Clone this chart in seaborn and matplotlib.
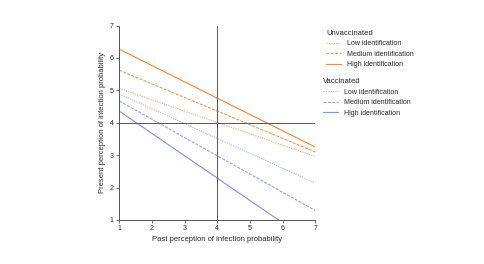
import pandas as pd
import seaborn as sns
import matplotlib.pyplot as plt
from matplotlib.lines import Line2D

# past perception (x) and predicted present perception at the two ends
past = [1, 7]
unvax_low = [5.06, 2.96]
unvax_medium = [5.62, 3.10]
unvax_high = [6.27, 3.25]
vax_low = [4.89, 2.14]
vax_medium = [4.67, 1.29]
vax_high = [4.36, 0.22]

levels = ['Low identification', 'Medium identification', 'High identification']
orange = '#f58a3a'
blue = '#8296ee'
styles = {'Low identification': (0, (1, 1)),
          'Medium identification': (0, (2.5, 1.2)),
          'High identification': '-'}
alphas = {'Low identification': 0.65, 'Medium identification': 0.85, 'High identification': 1.0}

rows = []
for grp, series in [('Unvaccinated', [unvax_low, unvax_medium, unvax_high]),
                    ('Vaccinated', [vax_low, vax_medium, vax_high])]:
    for lev, vals in zip(levels, series):
        for x, y in zip(past, vals):
            rows.append({'group': grp, 'level': lev, 'past': x, 'present': y})
df = pd.DataFrame(rows)

sns.set_style('white')
plt.rcParams['font.family'] = ['Liberation Sans', 'DejaVu Sans']

fig = plt.figure(figsize=(4.85, 2.64), dpi=100)
ax = fig.add_axes([0.246, 0.167, 0.404, 0.736])

for (grp, lev), d in df.groupby(['group', 'level']):
    col = orange if grp == 'Unvaccinated' else blue
    sns.lineplot(data=d, x='past', y='present', ax=ax, color=col,
                 linestyle=styles[lev], alpha=alphas[lev], linewidth=0.85, legend=False)

ax.axvline(4, color='#555555', linewidth=0.7)
ax.axhline(4, color='#555555', linewidth=0.7)

ax.set_xlim(1, 7)
ax.set_ylim(1, 7)
ax.set_xticks(range(1, 8))
ax.set_yticks(range(1, 8))
ax.tick_params(labelsize=5, length=2, width=0.6, color='#555555', pad=2, bottom=True, left=True)
for s in ['top', 'right']:
    ax.spines[s].set_visible(False)
for s in ['left', 'bottom']:
    ax.spines[s].set_color('#555555')
    ax.spines[s].set_linewidth(0.7)
ax.set_xlabel('Past perception of infection probability', fontsize=5.5, labelpad=2.5)
ax.set_ylabel('Present perception of infection probability', fontsize=5.5, labelpad=3)

for grp, col, xpos, ypos in [('Unvaccinated', orange, 0.665, 0.9),
                             ('Vaccinated', blue, 0.659, 0.716)]:
    handles = [Line2D([], [], color=col, linestyle=styles[l], alpha=alphas[l], linewidth=0.85)
               for l in levels]
    fig.legend(handles, levels, title=grp, fontsize=5, title_fontsize=5.5,
               loc='upper left', bbox_to_anchor=(xpos, ypos), frameon=False,
               borderpad=0, handlelength=2.2, handletextpad=0.8,
               labelspacing=0.5, alignment='left')

fig.savefig('out.png', dpi=100)
